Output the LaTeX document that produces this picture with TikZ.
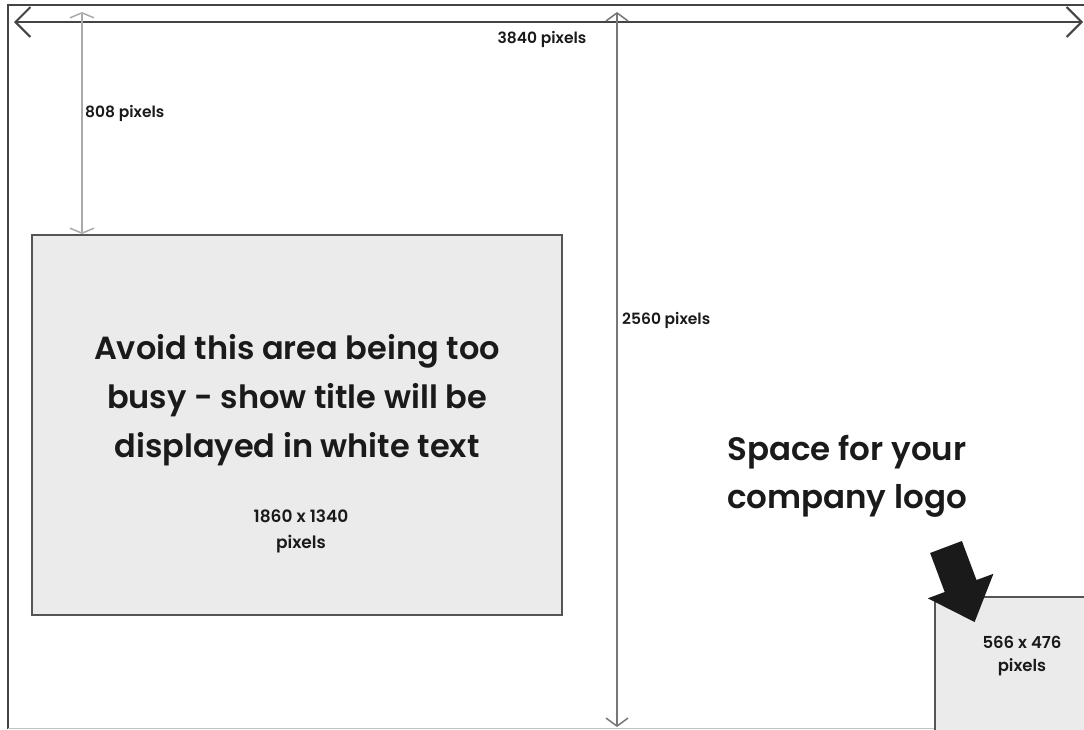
\documentclass[tikz,border=0pt]{standalone}
\usepackage{fontspec}
\IfFontExistsTF{Poppins SemiBold}{\setmainfont{Poppins SemiBold}}{\setmainfont{Poppins}[FakeBold=1.6]}
\usetikzlibrary{arrows.meta}
\definecolor{framegray}{HTML}{444444}
\definecolor{midgray}{HTML}{777777}
\definecolor{lightgray}{HTML}{AAAAAA}
\definecolor{boxfill}{HTML}{EBEBEB}
\definecolor{boxline}{HTML}{555555}
\definecolor{inkblack}{HTML}{1A1A1A}
\begin{document}
\begin{tikzpicture}[x=1pt,y=-1pt,
  frameline/.style={draw=framegray,line width=2pt},
  dimbig/.style={draw=framegray,line width=2pt,{Straight Barb[length=15pt,width=30pt]}-{Straight Barb[length=15pt,width=30pt]}},
  dimmid/.style={draw=midgray,line width=1.5pt,{Straight Barb[length=8pt,width=22pt]}-{Straight Barb[length=8pt,width=22pt]}},
  dimlight/.style={draw=lightgray,line width=1.5pt,{Straight Barb[length=5pt,width=24pt]}-{Straight Barb[length=5pt,width=24pt]}},
  areabox/.style={draw=boxline,line width=2pt,fill=boxfill,inner sep=0pt},
  smalltxt/.style={text=inkblack,inner sep=0pt,font=\fontsize{15.5}{25}\selectfont,align=center},
  boxtxt/.style={text=inkblack,inner sep=0pt,font=\fontsize{17}{26}\selectfont,align=center},
  bigtxt/.style={text=inkblack,inner sep=0pt,align=center}]
\useasboundingbox (0,0) rectangle (1084,729);
\fill[white] (0,0) rectangle (1084,729);
% outer frame
\draw[frameline] (8,729) -- (8,5) -- (1084,5);
\draw[draw=lightgray!70,line width=1pt] (8,728) -- (1084,728);
% areas
\node[areabox,minimum width=530pt,minimum height=380pt] (titlearea) at (297,425) {};
\node[areabox,anchor=north west,minimum width=170pt,minimum height=150pt] (logoarea) at (934,596) {};
% dimension lines
\coordinate (wL) at (14,22);
\coordinate (wR) at (1083,22);
\draw[dimbig] (wL) -- (wR);
\coordinate (hT) at (617,12);
\coordinate (hB) at (617,727);
\draw[dimmid] (hT) -- (hB);
\coordinate (mT) at (82,12);
\draw[dimlight] (mT) -- (titlearea.north -| mT);
% labels
\node[smalltxt] (w) at (542,39) {3840 pixels};
\node[smalltxt,anchor=west] (m) at (85,113) {808 pixels};
\node[smalltxt,anchor=west] (h) at (622,320) {2560 pixels};
\node[bigtxt,font=\fontsize{32}{49}\selectfont] (avoid) at (297,400) {Avoid this area being too\\busy - show title will be\\displayed in white text};
\node[boxtxt] (tsize) at (301,531) {1860 x 1340\\pixels};
\node[bigtxt,font=\fontsize{32.5}{48}\selectfont] (space) at (847,476) {Space for your\\company logo};
\node[boxtxt,font=\fontsize{16.5}{23}\selectfont] (lsize) at (1022,656) {566 x 476\\pixels};
% pointer arrow
\fill[inkblack] (930.1,553) -- (961.9,541) -- (976.5,580) -- (993.4,573.8) -- (974.6,622) -- (927.8,598.3) -- (944.7,592) -- cycle;
\end{tikzpicture}
\end{document}
